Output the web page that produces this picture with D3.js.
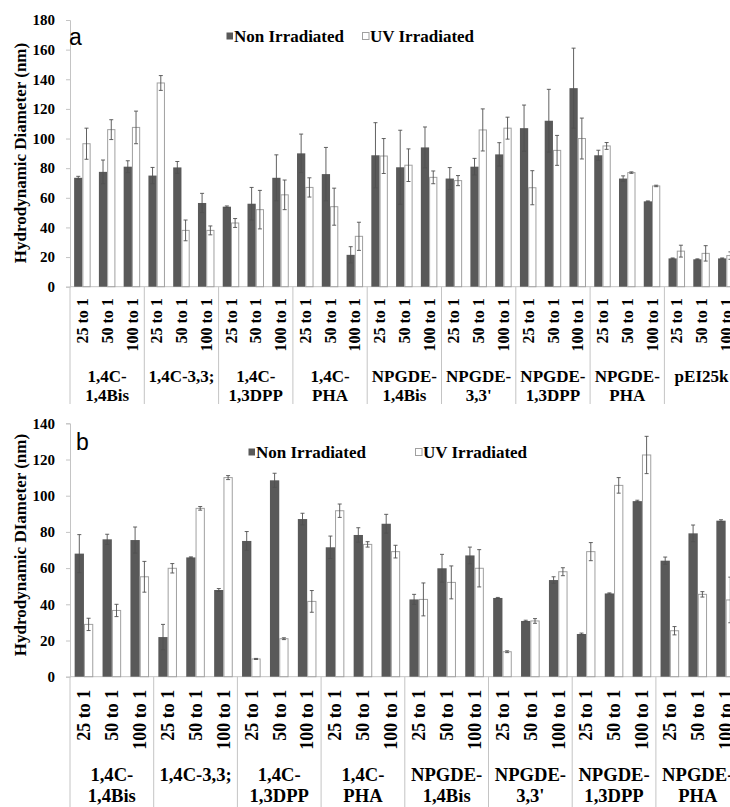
<!DOCTYPE html>
<html>
<head>
<meta charset="utf-8">
<script src="https://cdn.jsdelivr.net/npm/d3@7"></script>
<style>
  body { margin: 0; background: #fff; }
  svg { display: block; }
</style>
</head>
<body>
<div id="chart"></div>
<script>
// data
const ratios = ["25 to 1", "50 to 1", "100 to 1"]
const seriesNames = ["Non Irradiated", "UV Irradiated"]

const groupsA = ["1,4C-\n1,4Bis", "1,4C-3,3;", "1,4C-\n1,3DPP", "1,4C-\nPHA", "NPGDE-\n1,4Bis",
                 "NPGDE-\n3,3'", "NPGDE-\n1,3DPP", "NPGDE-\nPHA", "pEI25k"]
const nonIrrA    = [73.5, 77.5, 81, 75, 80.5, 56.5, 54, 56, 73.5, 90, 76, 21.5,
                    88.7, 80.6, 94, 73, 81, 89.3, 107, 112, 134, 88.7, 73, 57.6, 19.1, 18.5, 19.1]
const nonIrrErrA = [1, 8, 4, 5.5, 4, 6.5, 0.5, 11, 15.5, 13, 18, 5.5,
                    22, 25, 13.8, 7.4, 5.6, 7.9, 15.6, 21.2, 27, 3.4, 1.8, 0.3, 0.3, 0.3, 0.3]
const uvA        = [96.5, 106, 107.5, 137.5, 38, 38, 43, 52, 62, 67, 54, 34,
                    88.2, 82, 73.8, 71.6, 105.8, 107, 66.8, 92, 100, 95, 77, 68, 24, 22.5, 21]
const uvErrA     = [10.5, 6.7, 11, 5, 7, 3, 3, 13, 10, 6.5, 12.5, 9.5,
                    11.8, 11, 4.3, 3.4, 14.2, 7.4, 11.5, 10.1, 13.8, 2.3, 0.5, 0.5, 4, 5.2, 2.5]
const ticksA = [0, 20, 40, 60, 80, 100, 120, 140, 160, 180]

const groupsB = ["1,4C-\n1,4Bis", "1,4C-3,3;", "1,4C-\n1,3DPP", "1,4C-\nPHA", "NPGDE-\n1,4Bis",
                 "NPGDE-\n3,3'", "NPGDE-\n1,3DPP", "NPGDE-\nPHA"]
const nonIrrB    = [68, 75.9, 75.5, 21.9, 65.9, 47.9, 75, 108.5, 87.1, 71.5, 78.3, 84.5,
                    42.7, 59.9, 67, 43.5, 30.8, 53.4, 23.6, 46, 97, 64.1, 79.2, 86.2]
const nonIrrErrB = [10.5, 2.8, 7.2, 7, 0.3, 0.8, 5.2, 3.9, 3.2, 6.2, 4, 5.2,
                    2.8, 7.7, 4.6, 0.3, 0.4, 1.8, 0.5, 0.3, 0.5, 2, 4.6, 0.5]
const uvB        = [28.9, 36.6, 55.2, 59.9, 93, 110, 9.8, 21, 41.6, 91.7, 73.1, 69.1,
                    42.7, 52.1, 59.9, 13.8, 30.8, 58, 69.1, 105.7, 122.5, 25.4, 45.5, 42.4]
const uvErrB     = [3.4, 3.4, 8.5, 2.6, 1, 1.1, 0.3, 0.5, 6, 3.7, 1.5, 3.5,
                    9.1, 9.1, 10.3, 0.5, 1.3, 2.2, 5, 4.3, 10.3, 2.3, 1.5, 12.6]
const ticksB = [0, 20, 40, 60, 80, 100, 120, 140]

const serif = "'Liberation Serif', 'Times New Roman', serif"
const sans = "'Liberation Sans', Arial, sans-serif"
const darkFill = "#595959"
const axisColor = "#c4c4c4"

const svg = d3.select("#chart").append("svg")
              .attr("width", 730)
              .attr("height", 807)

function drawPanel(p) {
    // 1. build rows
    const rows = []
    p.groups.forEach((g, gi) => {
        ratios.forEach((r, ri) => {
            const i = gi * 3 + ri
            rows.push({key: gi + "|" + r, label: r,
                       vals: [{s: 0, v: p.dark[i], e: p.darkErr[i]},
                              {s: 1, v: p.light[i], e: p.lightErr[i]}]})
        })
    })

    // 2. scales
    const x = d3.scaleBand()
                .domain(rows.map(d => d.key))
                .range([p.left, p.right])
    const xGroup = d3.scaleBand()
                     .domain(p.groups.map((g, i) => i))
                     .range([p.left, p.right])
    const xSeries = d3.scaleBand()
                      .domain([0, 1])
                      .range([0, x.bandwidth()])
                      .paddingOuter(0.5)
    const y = d3.scaleLinear()
                .domain([0, p.max])
                .range([p.bottom, p.top])

    const g = svg.append("g")

    // 3. y axis
    const yAxis = d3.axisLeft(y)
                    .tickValues(p.ticks)
                    .tickSize(4)
                    .tickPadding(11)
    const ya = g.append("g")
                .attr("transform", `translate(${p.left}, 0)`)
                .call(yAxis)
    ya.select(".domain").attr("stroke", axisColor)
    ya.selectAll("line").attr("stroke", axisColor)
    ya.selectAll("text")
      .attr("font-family", serif)
      .attr("font-weight", "bold")
      .attr("font-size", "15px")
      .attr("fill", "#000")

    // zero line
    g.append("line")
     .attr("x1", p.left).attr("x2", p.right)
     .attr("y1", y(0)).attr("y2", y(0))
     .attr("stroke", axisColor)

    // group separators
    g.selectAll(".sep")
     .data(d3.range(p.groups.length + 1))
     .join("line")
     .attr("class", "sep")
     .attr("x1", d => p.left + d * xGroup.step())
     .attr("x2", d => p.left + d * xGroup.step())
     .attr("y1", y(0))
     .attr("y2", p.sepBottom)
     .attr("stroke", axisColor)

    // 4. bars
    const cat = g.selectAll(".cat")
                 .data(rows)
                 .join("g")
                 .attr("class", "cat")
                 .attr("transform", d => `translate(${x(d.key)}, 0)`)
    cat.selectAll("rect")
       .data(d => d.vals)
       .join("rect")
       .attr("x", d => xSeries(d.s) + (d.s === 1 ? 0.5 : 0))
       .attr("y", d => y(d.v))
       .attr("width", d => xSeries.bandwidth() - (d.s === 1 ? 1 : 0))
       .attr("height", d => y(0) - y(d.v))
       .attr("fill", d => d.s === 0 ? darkFill : "#fff")
       .attr("stroke", d => d.s === 0 ? "none" : "#a0a0a0")
       .attr("stroke-width", 1)

    // error bars
    const err = cat.selectAll(".err")
                   .data(d => d.vals)
                   .join("g")
                   .attr("class", "err")
                   .attr("transform", d => `translate(${xSeries(d.s) + xSeries.bandwidth() / 2}, 0)`)
                   .attr("stroke", "#505050")
                   .attr("stroke-width", 0.9)
    err.append("line")
       .attr("y1", d => y(d.v + d.e))
       .attr("y2", d => y(d.v - d.e))
    err.append("line")
       .attr("x1", -2).attr("x2", 2)
       .attr("y1", d => y(d.v + d.e))
       .attr("y2", d => y(d.v + d.e))
    err.append("line")
       .attr("x1", -2).attr("x2", 2)
       .attr("y1", d => y(d.v - d.e))
       .attr("y2", d => y(d.v - d.e))

    // 5. category labels
    g.selectAll(".tick-label")
     .data(rows)
     .join("text")
     .attr("class", "tick-label")
     .attr("transform", d => `translate(${x(d.key) + x.bandwidth() / 2}, ${y(0) + p.tickGap}) rotate(-90)`)
     .attr("dy", "0.35em")
     .attr("text-anchor", "end")
     .attr("font-family", serif)
     .attr("font-weight", "bold")
     .attr("font-size", p.tickSize)
     .text(d => d.label)

    // group labels
    const gl = g.selectAll(".group-label")
                .data(p.groups)
                .join("text")
                .attr("class", "group-label")
                .attr("text-anchor", "middle")
                .attr("font-family", serif)
                .attr("font-weight", "bold")
                .attr("font-size", p.groupSize)
    gl.selectAll("tspan")
      .data((d, i) => d.split("\n").map(t => ({t: t, i: i})))
      .join("tspan")
      .attr("x", d => xGroup(d.i) + xGroup.bandwidth() / 2)
      .attr("y", (d, j) => p.groupY + j * p.groupLine)
      .text(d => d.t)

    // 6. axis title
    g.append("text")
     .attr("transform", `translate(${p.titleX}, ${p.titleY}) rotate(-90)`)
     .attr("text-anchor", "middle")
     .attr("font-family", serif)
     .attr("font-weight", "bold")
     .attr("font-size", "17px")
     .text(p.title)

    // panel letter
    g.append("text")
     .attr("x", p.letterX)
     .attr("y", p.letterY)
     .attr("font-family", sans)
     .attr("font-size", "23px")
     .text(p.letter)

    // 7. legend
    const leg = g.selectAll(".legend")
                 .data(seriesNames)
                 .join("g")
                 .attr("class", "legend")
                 .attr("transform", (d, i) => `translate(${p.legendX[i]}, ${p.legendY})`)
    leg.append("rect")
       .attr("x", 0.5).attr("y", -3.5)
       .attr("width", 6.5).attr("height", 7)
       .attr("fill", (d, i) => i === 0 ? darkFill : "#fff")
       .attr("stroke", (d, i) => i === 0 ? "none" : "#a0a0a0")
    leg.append("text")
       .attr("x", 8)
       .attr("y", 5.7)
       .attr("font-family", serif)
       .attr("font-weight", "bold")
       .attr("font-size", "17px")
       .text(d => d)
}

drawPanel({groups: groupsA, dark: nonIrrA, darkErr: nonIrrErrA, light: uvA, lightErr: uvErrA,
           ticks: ticksA, max: 180, left: 70, right: 738.7, top: 20, bottom: 286.7,
           sepBottom: 404, tickGap: 11.5, tickSize: "16px", groupSize: "17px",
           groupY: 382, groupLine: 18.5,
           title: "Hydrodynamic Diameter (nm)", titleX: 26, titleY: 153,
           letter: "a", letterX: 69, letterY: 45,
           legendX: [226, 362], legendY: 36})

drawPanel({groups: groupsB, dark: nonIrrB, darkErr: nonIrrErrB, light: uvB, lightErr: uvErrB,
           ticks: ticksB, max: 140, left: 70, right: 739.6, top: 423.3, bottom: 676.7,
           sepBottom: 807, tickGap: 13, tickSize: "18px", groupSize: "18.6px",
           groupY: 781, groupLine: 21,
           title: "Hydrodynamic DIameter (nm)", titleX: 26, titleY: 545,
           letter: "b", letterX: 76, letterY: 450,
           legendX: [248, 415], legendY: 452})
</script>
</body>
</html>
